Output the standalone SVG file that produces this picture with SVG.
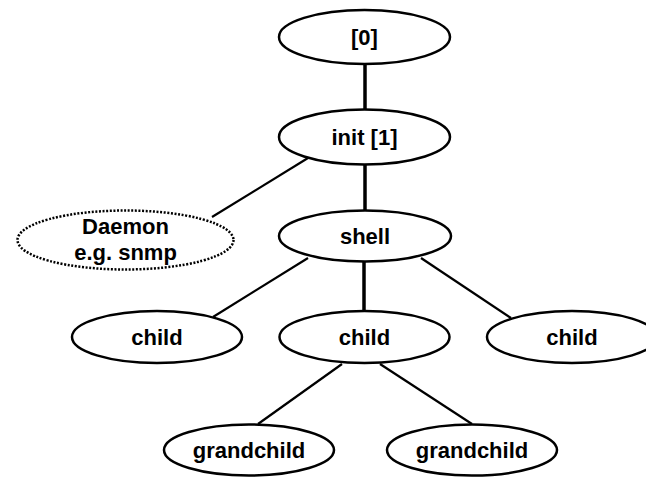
<svg xmlns="http://www.w3.org/2000/svg" width="646" height="477" viewBox="0 0 646 477">
<style>
.n{fill:#fff;stroke:#000;stroke-width:2.5}
.d{fill:#fff;stroke:#000;stroke-width:2.5;stroke-dasharray:2 1.6}
.t{font-family:"Liberation Sans",Arial,sans-serif;font-weight:bold;font-size:22px;text-anchor:middle;fill:#000}
.v{stroke:#000;stroke-width:3.5}
.g{stroke:#000;stroke-width:2.2}
</style>
<rect width="646" height="477" fill="#fff"/>
<g id="connectors">
<line class="v" x1="365" y1="63" x2="365" y2="110"/>
<line class="g" x1="308" y1="158" x2="212" y2="217"/>
<line class="v" x1="365" y1="164" x2="365" y2="211"/>
<line class="g" x1="308" y1="258" x2="213" y2="317"/>
<line class="v" x1="364" y1="261" x2="364" y2="311"/>
<line class="g" x1="421" y1="258" x2="511" y2="318"/>
<line class="g" x1="342" y1="364" x2="258" y2="424"/>
<line class="g" x1="380" y1="364" x2="472" y2="424"/>
</g>
<g id="n0"><ellipse class="n" cx="364.5" cy="37" rx="85.5" ry="27"/><text class="t" x="364.5" y="45">[0]</text></g>
<g id="init"><ellipse class="n" cx="364.5" cy="137" rx="85.5" ry="27.5"/><text class="t" x="364.5" y="145">init [1]</text></g>
<g id="daemon"><ellipse class="d" cx="125.5" cy="240" rx="108" ry="29.5"/><text class="t" x="125.5" y="234">Daemon</text><text class="t" x="125.5" y="260">e.g. snmp</text></g>
<g id="shell"><ellipse class="n" cx="365" cy="236" rx="86" ry="25.5"/><text class="t" x="365" y="244">shell</text></g>
<g id="child1"><ellipse class="n" cx="157" cy="337" rx="85" ry="26"/><text class="t" x="157" y="345">child</text></g>
<g id="child2"><ellipse class="n" cx="364.5" cy="337" rx="85" ry="26"/><text class="t" x="364.5" y="345">child</text></g>
<g id="child3"><ellipse class="n" cx="572" cy="337" rx="85" ry="26"/><text class="t" x="572" y="345">child</text></g>
<g id="grandchild1"><ellipse class="n" cx="249" cy="450" rx="85" ry="25.5"/><text class="t" x="249" y="458">grandchild</text></g>
<g id="grandchild2"><ellipse class="n" cx="472" cy="450" rx="85" ry="25.5"/><text class="t" x="472" y="458">grandchild</text></g>
</svg>
